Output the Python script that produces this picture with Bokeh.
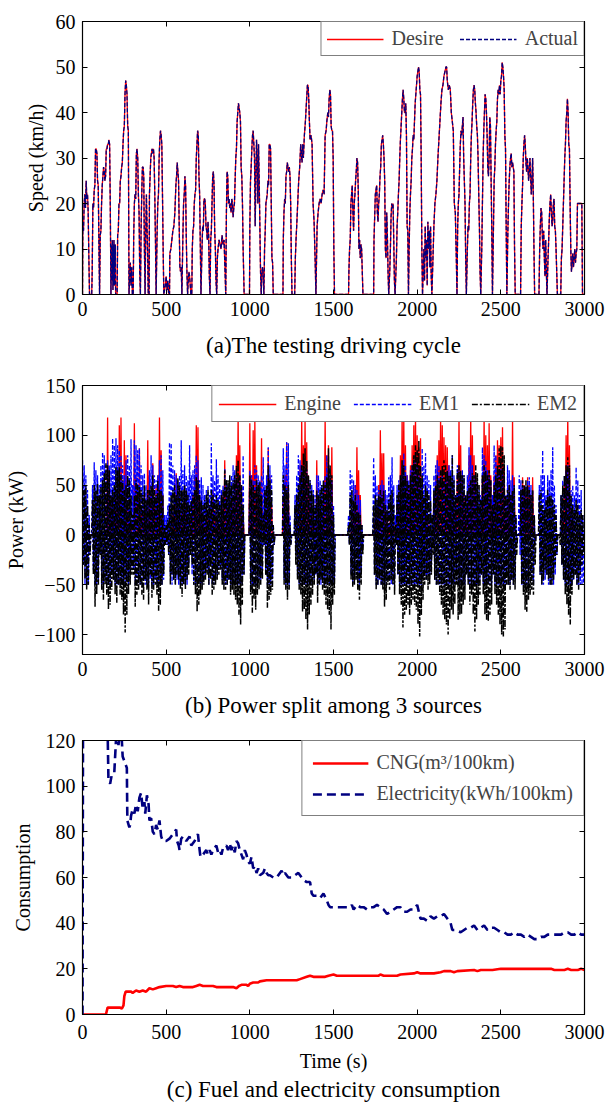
from bokeh.plotting import figure
from bokeh.layouts import column
from bokeh.models import (Range1d, FixedTicker, LinearAxis, Legend, LegendItem,
                          Span, Title, CustomJSTickFormatter)
from bokeh.embed import file_html
from bokeh.resources import INLINE

FONT = "Liberation Serif"

# ---------------- data ----------------
x_ticks = [0, 500, 1000, 1500, 2000, 2500, 3000]
speed_ticks = [0, 10, 20, 30, 40, 50, 60]
power_ticks = [-100, -50, 0, 50, 100, 150]
cons_ticks = [0, 20, 40, 60, 80, 100, 120]

# (a) speed cycle: (time s, speed km/h)
speed_points = [
    (0, 0), (2, 15), (6, 14), (10, 20), (14, 22), (18, 19), (22, 25), (26, 21), (30, 22), (34, 18), (38, 8), (42, 0),
    (55, 0), (58, 5), (62, 20), (66, 19), (70, 23), (74, 24), (78, 32), (82, 32), (86, 31), (90, 25), (94, 24), (98, 12), (102, 0),
    (106, 13), (110, 14), (114, 20), (118, 24), (122, 26), (126, 28), (130, 27), (134, 25), (138, 26), (142, 32), (146, 32), (150, 33), (154, 33), (158, 34), (162, 33), (166, 20), (170, 0),
    (174, 11), (176, 3), (178, 12), (180, 8), (182, 1), (184, 11), (186, 5), (188, 12), (190, 2), (192, 10), (194, 6), (196, 11), (198, 0),
    (207, 0), (210, 13), (214, 14), (218, 20), (222, 20), (226, 25), (230, 26), (234, 28), (238, 29), (242, 33), (246, 36), (250, 37), (254, 44), (258, 47), (262, 46), (266, 44), (270, 37), (274, 36), (278, 0),
    (282, 4), (286, 7), (290, 2), (294, 6), (298, 0),
    (303, 0), (306, 13), (310, 20), (314, 22), (318, 21), (322, 31), (326, 32), (330, 30), (334, 22), (338, 18), (342, 5), (346, 0),
    (350, 14), (354, 22), (358, 28), (362, 28), (366, 26), (370, 10), (374, 0),
    (378, 14), (382, 22), (386, 14), (390, 8), (393, 0),
    (398, 0), (400, 22), (404, 26), (408, 30), (412, 31), (416, 32), (420, 31), (424, 32), (428, 30), (432, 22), (436, 12), (440, 0),
    (446, 14), (450, 20), (454, 22), (458, 30), (462, 34), (466, 36), (470, 35), (474, 33), (478, 22), (482, 10), (486, 0),
    (495, 2), (500, 4), (505, 1), (510, 3), (515, 0),
    (520, 0), (522, 9), (528, 10), (534, 12), (540, 14), (546, 15), (552, 18), (558, 24), (562, 26), (566, 29), (570, 27), (574, 25), (578, 15), (582, 6), (586, 5), (590, 6), (594, 0),
    (600, 13), (604, 20), (608, 22), (612, 26), (616, 24), (620, 13), (624, 5), (628, 0),
    (632, 3), (636, 5), (640, 4), (644, 2), (648, 0),
    (653, 0), (656, 10), (660, 14), (664, 15), (668, 20), (672, 22), (676, 23), (680, 30), (684, 33), (688, 36), (692, 35), (696, 26), (700, 22), (704, 11), (708, 0),
    (714, 10), (718, 15), (722, 14), (726, 21), (730, 21), (734, 20), (738, 15), (742, 14), (746, 12), (750, 16), (754, 13), (758, 4), (762, 0),
    (766, 12), (770, 14), (774, 20), (778, 26), (782, 27), (786, 24), (790, 14), (794, 10), (798, 3), (802, 0),
    (806, 8), (810, 10), (816, 12), (822, 11), (828, 10), (834, 13), (840, 11), (846, 12), (852, 5), (856, 0),
    (860, 18), (864, 27), (868, 26), (872, 20), (876, 21), (880, 19), (884, 20), (888, 18), (892, 21), (896, 20), (900, 17), (904, 19), (908, 20), (912, 25), (916, 30), (920, 32), (924, 38), (928, 40), (932, 42), (936, 41), (940, 40), (944, 38), (948, 28), (952, 26), (956, 20), (960, 10), (966, 0),
    (998, 0), (1000, 15), (1004, 25), (1008, 28), (1012, 32), (1016, 35), (1020, 36), (1024, 33), (1028, 30), (1032, 15), (1036, 25), (1040, 34), (1044, 30), (1048, 20), (1052, 33), (1056, 25), (1060, 15), (1064, 5), (1068, 0),
    (1072, 5), (1076, 6), (1080, 4), (1084, 0),
    (1088, 10), (1092, 14), (1096, 20), (1100, 21), (1104, 22), (1108, 25), (1112, 24), (1116, 33), (1120, 33), (1124, 32), (1128, 20), (1132, 8), (1136, 7), (1140, 0),
    (1198, 0), (1200, 12), (1204, 18), (1208, 21), (1212, 20), (1216, 26), (1220, 27), (1224, 29), (1228, 28), (1232, 27), (1236, 28), (1240, 26), (1244, 20), (1248, 8), (1252, 0),
    (1268, 0), (1272, 8), (1276, 12), (1280, 15), (1286, 20), (1292, 25), (1298, 28), (1304, 33), (1308, 31), (1312, 29), (1316, 33), (1320, 30), (1326, 35), (1332, 38), (1338, 42), (1344, 46), (1348, 46), (1352, 43), (1356, 38), (1360, 34), (1366, 35), (1372, 33), (1378, 20), (1384, 16), (1390, 8), (1395, 0),
    (1402, 15), (1408, 18), (1414, 20), (1420, 21), (1426, 20), (1432, 22), (1438, 23), (1444, 22), (1450, 35), (1456, 36), (1460, 38), (1466, 40), (1470, 39), (1474, 43), (1478, 45), (1482, 44), (1486, 37), (1490, 36), (1494, 36), (1498, 30), (1502, 10), (1506, 0),
    (1590, 0), (1592, 5), (1596, 10), (1600, 12), (1604, 20), (1608, 22), (1612, 24), (1616, 18), (1620, 14), (1624, 20), (1628, 22), (1632, 25), (1636, 27), (1640, 30), (1644, 29), (1648, 23), (1652, 10), (1656, 12), (1660, 8), (1664, 11), (1668, 10), (1672, 5), (1676, 0),
    (1740, 0), (1742, 12), (1746, 17), (1750, 22), (1754, 23), (1758, 24), (1762, 18), (1766, 16), (1770, 20), (1774, 22), (1778, 26), (1782, 28), (1786, 33), (1790, 34), (1794, 35), (1798, 33), (1802, 30), (1806, 25), (1810, 10), (1814, 8), (1818, 18), (1822, 13), (1826, 5), (1830, 0),
    (1836, 5), (1840, 10), (1844, 17), (1848, 20), (1852, 19), (1856, 20), (1860, 12), (1864, 3), (1868, 0),
    (1876, 8), (1880, 15), (1884, 18), (1888, 22), (1892, 25), (1896, 30), (1900, 34), (1904, 37), (1908, 40), (1912, 43), (1916, 45), (1920, 43), (1924, 40), (1928, 40), (1932, 42), (1936, 35), (1940, 15), (1944, 14), (1948, 0),
    (1952, 10), (1956, 18), (1960, 22), (1964, 25), (1968, 30), (1972, 32), (1976, 35), (1980, 34), (1984, 38), (1988, 42), (1992, 44), (1996, 46), (2000, 48), (2004, 49), (2008, 50), (2012, 49), (2016, 45), (2020, 44), (2024, 30), (2028, 10), (2032, 0),
    (2036, 5), (2040, 10), (2044, 3), (2048, 15), (2052, 8), (2056, 12), (2060, 2), (2064, 16), (2068, 10), (2072, 14), (2076, 6), (2080, 15), (2084, 4), (2088, 0),
    (2096, 10), (2100, 15), (2106, 20), (2112, 22), (2118, 25), (2124, 30), (2130, 34), (2136, 38), (2142, 42), (2148, 45), (2154, 46), (2160, 48), (2166, 49), (2172, 50), (2176, 50), (2180, 47), (2186, 45), (2192, 46), (2198, 45), (2204, 40), (2210, 38), (2216, 36), (2222, 20), (2228, 18), (2234, 8), (2238, 0),
    (2242, 15), (2246, 20), (2250, 22), (2254, 28), (2258, 33), (2262, 36), (2266, 35), (2270, 37), (2274, 39), (2278, 30), (2282, 25), (2286, 20), (2290, 8), (2294, 0),
    (2300, 10), (2304, 15), (2308, 14), (2312, 20), (2316, 22), (2320, 30), (2324, 35), (2328, 38), (2332, 42), (2336, 45), (2340, 46), (2344, 45), (2348, 42), (2352, 40), (2356, 37), (2360, 35), (2364, 30), (2368, 22), (2372, 15), (2376, 5), (2380, 0),
    (2386, 10), (2390, 20), (2394, 30), (2398, 36), (2402, 40), (2406, 44), (2410, 43), (2414, 40), (2418, 35), (2422, 28), (2426, 26), (2430, 30), (2434, 39), (2438, 37), (2442, 25), (2446, 14), (2450, 0),
    (2456, 15), (2460, 25), (2464, 28), (2468, 33), (2472, 36), (2476, 38), (2480, 43), (2484, 45), (2488, 44), (2492, 46), (2496, 44), (2500, 47), (2504, 48), (2508, 51), (2512, 50), (2516, 48), (2520, 45), (2524, 35), (2528, 32), (2532, 15), (2536, 0),
    (2542, 14), (2546, 20), (2550, 25), (2554, 28), (2558, 30), (2562, 31), (2566, 28), (2570, 29), (2574, 28), (2578, 27), (2582, 10), (2586, 0),
    (2618, 0), (2622, 15), (2626, 20), (2630, 24), (2634, 30), (2638, 33), (2642, 35), (2646, 33), (2650, 29), (2654, 27), (2658, 30), (2662, 28), (2666, 25), (2670, 27), (2674, 30), (2678, 26), (2682, 22), (2686, 25), (2690, 30), (2694, 22), (2698, 10), (2702, 0),
    (2728, 0), (2732, 10), (2736, 15), (2740, 19), (2744, 18), (2748, 13), (2752, 10), (2756, 14), (2760, 8), (2764, 4), (2768, 12), (2772, 5), (2776, 0),
    (2782, 8), (2786, 12), (2790, 17), (2794, 20), (2798, 22), (2802, 18), (2806, 15), (2810, 16), (2814, 20), (2818, 21), (2822, 15), (2826, 14), (2830, 10), (2834, 5), (2838, 0),
    (2858, 0), (2862, 8), (2866, 10), (2870, 15), (2874, 20), (2878, 25), (2882, 30), (2886, 33), (2890, 38), (2894, 40), (2898, 43), (2902, 40), (2906, 33), (2910, 32), (2914, 20), (2918, 10), (2922, 5),
    (2926, 7), (2930, 9), (2934, 6), (2938, 8), (2942, 10), (2946, 7), (2950, 9), (2954, 10), (2958, 20), (2962, 20), (2970, 20), (2978, 20), (2984, 20), (2988, 0), (3000, 0),
]

# (b) power split, sampled every 10 s (upper / lower excursion in each interval, kW)
power_time = list(range(0, 3000, 10))
engine_hi = [
    0, 0, 0, 0, 0, 0, 0, 0, 0, 0,
    0, 0, 0, 0, 0, 118, 60, 30, 40, 25,
    40, 35, 110, 118, 50, 95, 80, 30, 20, 10,
    0, 112, 60, 40, 87, 30, 25, 40, 20, 95,
    60, 40, 72, 30, 50, 60, 118, 85, 40, 0,
    0, 0, 0, 0, 20, 40, 62, 50, 30, 20,
    30, 50, 40, 0, 0, 20, 40, 60, 110, 108,
    40, 30, 20, 10, 20, 25, 0, 30, 45, 25,
    20, 10, 10, 20, 40, 75, 50, 30, 40, 35,
    40, 55, 80, 121, 90, 50, 20, 0, 0, 0,
    112, 60, 105, 115, 70, 40, 30, 97, 0, 40,
    50, 87, 60, 30, 0, 0, 0, 0, 0, 0,
    40, 60, 93, 50, 0, 0, 0, 0, 20, 40,
    70, 118, 90, 115, 93, 60, 40, 30, 20, 10,
    75, 40, 30, 20, 50, 120, 80, 90, 60, 88,
    0, 0, 0, 0, 0, 0, 0, 0, 0, 0,
    0, 20, 30, 50, 88, 65, 40, 0, 0, 0,
    0, 0, 0, 0, 0, 20, 30, 50, 105, 82,
    82, 40, 20, 10, 20, 30, 10, 0, 30, 50,
    80, 120, 118, 90, 60, 50, 70, 90, 110, 122,
    100, 88, 97, 40, 20, 30, 20, 10, 0, 0,
    40, 60, 80, 95, 120, 110, 98, 90, 88, 70,
    60, 50, 30, 20, 60, 118, 90, 60, 40, 20,
    40, 80, 122, 100, 80, 60, 40, 20, 10, 60,
    120, 100, 90, 112, 60, 20, 60, 80, 95, 90,
    98, 108, 70, 20, 40, 50, 40, 118, 58, 0,
    0, 0, 30, 58, 50, 40, 58, 50, 40, 58,
    0, 0, 0, 0, 0, 0, 0, 0, 0, 0,
    0, 0, 0, 0, 0, 0, 0, 20, 50, 100,
    122, 90, 30, 20, 0, 0, 0, 0, 0, 0,
]
em1_hi = [
    75, 70, 60, 45, 20, 0, 50, 73, 65, 60,
    50, 70, 83, 80, 70, 75, 70, 80, 97, 90,
    97, 90, 85, 80, 70, 60, 75, 80, 70, 96,
    50, 95, 90, 85, 87, 70, 60, 62, 50, 40,
    65, 80, 70, 60, 55, 60, 75, 80, 65, 20,
    20, 30, 93, 92, 70, 65, 60, 55, 60, 95,
    65, 70, 60, 55, 90, 60, 65, 70, 80, 75,
    55, 58, 50, 40, 45, 50, 40, 92, 60, 55,
    76, 60, 50, 45, 50, 67, 55, 50, 55, 60,
    70, 65, 60, 55, 60, 50, 80, 0, 0, 0,
    65, 60, 55, 70, 65, 60, 55, 60, 78, 50,
    60, 88, 70, 60, 10, 0, 0, 0, 0, 0,
    87, 70, 93, 92, 20, 0, 0, 40, 60, 80,
    75, 70, 65, 60, 66, 60, 55, 50, 45, 40,
    60, 60, 55, 50, 55, 60, 80, 70, 60, 55,
    30, 0, 0, 0, 0, 0, 0, 0, 0, 20,
    65, 60, 55, 50, 45, 40, 35, 10, 0, 0,
    0, 0, 0, 0, 78, 60, 50, 45, 50, 55,
    50, 45, 40, 58, 60, 78, 50, 20, 50, 55,
    60, 70, 82, 70, 60, 55, 65, 70, 75, 80,
    70, 60, 55, 87, 70, 82, 60, 55, 50, 20,
    60, 70, 75, 70, 65, 60, 55, 60, 65, 70,
    65, 80, 60, 40, 70, 65, 60, 65, 60, 40,
    60, 88, 80, 70, 60, 55, 50, 45, 40, 88,
    80, 75, 65, 60, 55, 40, 90, 80, 70, 65,
    70, 65, 60, 40, 70, 65, 55, 60, 50, 20,
    0, 60, 55, 50, 45, 50, 55, 58, 50, 45,
    20, 0, 0, 50, 60, 85, 60, 40, 60, 55,
    65, 88, 50, 30, 0, 0, 40, 55, 60, 65,
    70, 60, 45, 50, 40, 68, 55, 40, 45, 20,
]
em1_lo = [
    -30, -50, -50, -50, -20, 0, -35, -50, -50, -45,
    -20, -50, -50, -45, -50, -50, -50, -40, -45, -50,
    -50, -50, -50, -50, -50, -50, -45, -50, -40, -35,
    -35, -50, -50, -45, -50, -50, -45, -50, -50, -50,
    -45, -50, -50, -45, -50, -50, -50, -50, -45, -10,
    -10, -20, -40, -50, -45, -50, -45, -50, -50, -50,
    -45, -50, -50, -30, -20, -40, -50, -50, -50, -50,
    -50, -50, -45, -40, -35, -50, -30, -50, -50, -45,
    -40, -35, -30, -45, -50, -50, -50, -45, -50, -50,
    -50, -50, -50, -50, -50, -50, -40, 0, 0, 0,
    -50, -50, -50, -50, -50, -45, -45, -40, -10, -40,
    -50, -50, -50, -45, -10, 0, 0, 0, 0, 0,
    -45, -50, -50, -50, -10, 0, 0, -20, -40, -50,
    -50, -50, -50, -50, -50, -50, -50, -45, -45, -40,
    -50, -45, -50, -45, -50, -50, -50, -50, -50, -50,
    -50, 0, 0, 0, 0, 0, 0, 0, 0, -10,
    -40, -50, -45, -40, -45, -50, -40, -10, 0, 0,
    0, 0, 0, 0, -40, -50, -50, -45, -50, -50,
    -50, -50, -45, -50, -50, -50, -45, -10, -40, -50,
    -50, -50, -50, -50, -50, -50, -50, -50, -50, -50,
    -50, -50, -50, -45, -40, -45, -40, -40, -35, -10,
    -45, -50, -50, -50, -50, -50, -50, -50, -50, -50,
    -50, -50, -50, -40, -50, -50, -50, -50, -50, -40,
    -45, -50, -50, -50, -50, -50, -50, -45, -40, -50,
    -50, -50, -50, -50, -50, -40, -50, -50, -50, -50,
    -50, -50, -50, -40, -50, -50, -45, -50, -45, -10,
    0, -20, -50, -50, -50, -50, -50, -45, -45, -50,
    -10, 0, 0, -40, -50, -50, -45, -40, -50, -50,
    -50, -50, -40, -20, 0, 0, -30, -45, -50, -50,
    -50, -50, -50, -45, -40, -50, -50, -50, -50, -50,
]
em2_hi = [
    57, 45, 50, 30, 10, 0, 35, 50, 45, 52,
    40, 48, 55, 62, 72, 70, 65, 40, 45, 50,
    68, 65, 68, 60, 55, 45, 50, 60, 55, 40,
    20, 40, 55, 50, 48, 45, 40, 50, 35, 45,
    45, 50, 60, 45, 40, 55, 45, 45, 40, 10,
    10, 15, 30, 40, 45, 50, 40, 57, 50, 45,
    45, 50, 45, 40, 30, 35, 40, 45, 58, 55,
    40, 35, 30, 35, 40, 45, 30, 45, 40, 35,
    40, 35, 30, 40, 45, 65, 55, 55, 60, 50,
    55, 60, 70, 75, 60, 50, 30, 0, 0, 0,
    60, 55, 50, 45, 55, 50, 53, 40, 20, 45,
    50, 70, 55, 45, 10, 0, 0, 0, 0, 0,
    60, 50, 45, 50, 10, 0, 0, 30, 40, 50,
    60, 70, 82, 87, 75, 60, 55, 45, 40, 30,
    45, 40, 45, 50, 55, 50, 58, 87, 70, 60,
    20, 0, 0, 0, 0, 0, 0, 0, 0, 10,
    40, 45, 35, 40, 30, 23, 20, 10, 0, 0,
    0, 0, 0, 0, 30, 40, 35, 40, 45, 40,
    45, 30, 25, 35, 40, 45, 30, 10, 40, 50,
    60, 75, 70, 60, 55, 50, 60, 70, 80, 90,
    85, 95, 70, 60, 40, 50, 45, 40, 35, 20,
    45, 50, 60, 55, 65, 70, 75, 70, 65, 60,
    60, 80, 55, 40, 65, 70, 65, 60, 60, 40,
    45, 50, 55, 62, 60, 70, 62, 50, 35, 60,
    70, 65, 60, 65, 55, 30, 50, 60, 70, 87,
    90, 88, 80, 40, 45, 50, 40, 45, 50, 20,
    0, 0, 45, 55, 50, 55, 50, 45, 40, 45,
    20, 0, 0, 40, 45, 30, 25, 35, 45, 40,
    40, 35, 30, 20, 0, 0, 40, 50, 60, 70,
    78, 70, 40, 30, 25, 35, 30, 20, 25, 20,
]
em2_lo = [
    -30, -45, -55, -50, -20, 0, -40, -72, -60, -50,
    -20, -55, -65, -50, -60, -75, -70, -55, -45, -60,
    -68, -50, -60, -65, -80, -98, -80, -60, -50, -40,
    -40, -72, -60, -55, -50, -60, -65, -45, -55, -70,
    -40, -63, -55, -50, -60, -76, -70, -50, -40, -10,
    -10, -20, -50, -40, -45, -50, -40, -45, -55, -62,
    -50, -55, -45, -40, -20, -30, -50, -60, -77, -70,
    -60, -55, -50, -45, -40, -50, -45, -60, -55, -50,
    -45, -40, -35, -50, -55, -55, -50, -45, -60, -55,
    -60, -65, -70, -80, -90, -70, -40, 0, 0, 0,
    -60, -78, -65, -75, -60, -55, -50, -45, -10, -40,
    -73, -65, -60, -55, -10, 0, 0, 0, 0, 0,
    -50, -55, -65, -55, -10, 0, 0, -30, -45, -55,
    -60, -77, -75, -85, -95, -80, -70, -60, -50, -40,
    -68, -50, -45, -55, -60, -70, -75, -80, -95, -70,
    -60, 0, 0, 0, 0, 0, 0, 0, 0, -10,
    -45, -52, -50, -45, -55, -65, -50, -20, 0, 0,
    0, 0, 0, 0, -40, -55, -50, -45, -50, -55,
    -72, -65, -50, -55, -45, -50, -60, -10, -40, -60,
    -70, -93, -80, -75, -70, -80, -70, -65, -70, -75,
    -90, -102, -80, -65, -50, -45, -55, -50, -40, -20,
    -45, -50, -50, -60, -70, -80, -85, -90, -100, -85,
    -75, -80, -70, -50, -85, -80, -80, -70, -65, -40,
    -50, -70, -60, -80, -97, -85, -70, -60, -40, -60,
    -80, -85, -87, -80, -70, -40, -60, -70, -80, -90,
    -100, -102, -95, -50, -50, -55, -45, -50, -55, -20,
    0, 0, -50, -60, -75, -77, -65, -60, -55, -60,
    -30, 0, 0, -40, -50, -45, -35, -40, -45, -50,
    -50, -45, -30, -20, 0, -10, -30, -45, -60, -70,
    -80, -90, -60, -45, -40, -50, -55, -40, -30, -20,
]

# (c) cumulative consumption
cng_points = [
    (0, 0), (140, 0), (150, 3), (225, 3), (235, 2.5), (245, 4), (250, 8), (258, 10), (290, 10), (300, 9.5),
    (320, 10.5), (340, 10), (360, 10.5), (380, 10), (400, 11.5), (420, 11), (440, 11.5), (460, 12), (500, 12.5),
    (540, 12.5), (560, 12), (580, 12.5), (600, 12), (660, 12), (680, 12.5), (700, 13), (720, 12.5), (780, 12.5),
    (800, 12), (900, 12), (920, 11.5), (935, 12.5), (950, 13), (980, 13), (990, 12.5), (1000, 13.5), (1020, 14),
    (1050, 14), (1060, 14.5), (1100, 15), (1200, 15), (1280, 15), (1300, 15.5), (1340, 16.5), (1360, 17),
    (1380, 16.5), (1450, 16.5), (1470, 17), (1500, 17.5), (1520, 17), (1770, 17), (1780, 17.5), (1800, 17),
    (1880, 17), (1900, 17.5), (1980, 18), (2000, 18.5), (2020, 18), (2100, 18), (2140, 18.5), (2160, 19),
    (2200, 19), (2220, 18.5), (2240, 19), (2340, 19.5), (2360, 19), (2380, 19.5), (2450, 19.5), (2500, 20),
    (2800, 20), (2820, 19.5), (2880, 19.5), (2900, 20), (2920, 19.5), (2960, 19.5), (2980, 20), (3000, 19.5),
]
elec_points = [
    (0, 0), (3, 125), (150, 125), (155, 103), (165, 101), (175, 105), (190, 106), (200, 120), (205, 125),
    (215, 118), (225, 125), (235, 120), (240, 113), (255, 110), (265, 108), (268, 85), (280, 82), (285, 83),
    (290, 87), (300, 90), (310, 88), (320, 92), (330, 89), (340, 95), (350, 97), (360, 90), (370, 93), (375, 88),
    (385, 96), (395, 92), (400, 85), (410, 86), (420, 80), (430, 79), (440, 83), (450, 81), (460, 85), (470, 78),
    (480, 76), (500, 76), (520, 77), (540, 79), (560, 81), (565, 76), (575, 74), (580, 72), (590, 77), (600, 78),
    (620, 76), (640, 78), (650, 74), (670, 76), (690, 79), (700, 72), (705, 69), (720, 70), (740, 72), (750, 70),
    (760, 72), (770, 70), (780, 72), (790, 73), (800, 74), (810, 71), (820, 72), (830, 70), (840, 73), (860, 74),
    (870, 72), (880, 75), (890, 72), (900, 74), (910, 71), (920, 76), (930, 75), (940, 72), (950, 70), (960, 68),
    (970, 72), (980, 70), (990, 67), (1000, 66), (1010, 69), (1020, 64), (1030, 65), (1040, 62), (1050, 64),
    (1060, 61), (1080, 62), (1090, 64), (1100, 62), (1110, 61), (1120, 61), (1140, 60), (1160, 60), (1180, 62),
    (1190, 63), (1200, 61), (1210, 62), (1230, 60), (1250, 60), (1270, 61), (1290, 62), (1300, 61), (1320, 59),
    (1340, 58), (1360, 58), (1370, 53), (1380, 52), (1400, 52), (1420, 51), (1440, 53), (1460, 50), (1470, 48),
    (1480, 47), (1500, 47), (1550, 47), (1600, 47), (1610, 48), (1620, 46), (1640, 48), (1660, 47), (1680, 47),
    (1700, 46), (1720, 47), (1740, 47), (1760, 48), (1780, 47), (1800, 46), (1820, 44), (1840, 45), (1860, 46),
    (1880, 47), (1900, 47), (1920, 45), (1940, 45), (1960, 46), (1980, 46), (2000, 48), (2010, 45), (2020, 42),
    (2040, 42), (2060, 41), (2080, 43), (2100, 42), (2120, 43), (2140, 43), (2160, 44), (2180, 42), (2200, 40),
    (2210, 37), (2230, 37), (2260, 36), (2280, 37), (2300, 38), (2320, 38), (2340, 39), (2360, 37), (2380, 38),
    (2400, 39), (2420, 37), (2440, 38), (2460, 38), (2480, 37), (2500, 36), (2520, 36), (2540, 35), (2560, 35),
    (2580, 36), (2600, 35), (2620, 35), (2640, 34), (2660, 35), (2680, 34), (2700, 33), (2720, 33), (2740, 34),
    (2760, 34), (2780, 35), (2800, 35), (2820, 35), (2840, 35), (2860, 35), (2880, 36), (2900, 36), (2920, 35),
    (2940, 35), (2960, 36), (2980, 35), (3000, 35),
]


# ---------------- helpers ----------------
def zigzag(times, hi, lo):
    xs, ys = [], []
    for t, h, l in zip(times, hi, lo):
        xs += [t, t + 5]
        ys += [h, l]
    return xs, ys


def style_axis(ax, ticks, labels=True):
    ax.ticker = FixedTicker(ticks=ticks)
    ax.major_tick_in = 5
    ax.major_tick_out = 0
    ax.minor_tick_in = 0
    ax.minor_tick_out = 0
    ax.axis_line_color = "black"
    ax.axis_line_width = 1
    ax.major_tick_line_color = "black"
    ax.major_tick_line_width = 1
    ax.major_label_text_font = FONT
    ax.major_label_text_font_size = "20px"
    ax.major_label_text_color = "black"
    ax.axis_label_text_font = FONT
    ax.axis_label_text_font_size = "20px"
    ax.axis_label_text_font_style = "normal"
    ax.axis_label_text_color = "black"
    if not labels:
        ax.formatter = CustomJSTickFormatter(code="return ''")
        ax.major_label_standoff = 0


def make_fig(height, top, bottom, left, yr, yticks, xlabel, ylabel, xstand, ystand, xsize, tstand):
    p = figure(width=607, height=height, x_range=Range1d(0, 3000), y_range=Range1d(*yr),
               output_backend="svg", toolbar_location=None,
               min_border_left=left, min_border_right=23, min_border_top=top,
               min_border_bottom=bottom, x_axis_location=None, y_axis_location=None)
    p.xgrid.visible = False
    p.ygrid.visible = False
    p.outline_line_color = "black"
    p.outline_line_width = 1.2
    p.outline_line_alpha = 1
    p.background_fill_color = "white"
    p.border_fill_color = "white"
    bx = LinearAxis(axis_label=xlabel)
    style_axis(bx, x_ticks)
    bx.major_label_standoff = tstand
    bx.axis_label_standoff = xstand
    bx.axis_label_text_font_size = xsize
    p.add_layout(bx, "below")
    ly = LinearAxis(axis_label=ylabel)
    style_axis(ly, yticks)
    ly.major_label_standoff = 7
    ly.axis_label_standoff = ystand
    p.add_layout(ly, "left")
    ra = LinearAxis()
    style_axis(ra, yticks, labels=False)
    p.add_layout(ra, "right")
    ta = LinearAxis()
    style_axis(ta, x_ticks, labels=False)
    p.add_layout(ta, "above")
    return p


def make_legend(items, orientation, padding, spacing, glyph_width):
    return Legend(items=items, orientation=orientation, location="top_right", margin=0,
                  padding=padding, spacing=spacing, glyph_width=glyph_width, glyph_height=20,
                  label_standoff=8, label_text_font=FONT, label_text_font_size="20px",
                  border_line_color="black", border_line_width=1.2,
                  background_fill_color="white", background_fill_alpha=1)


# ---------------- (a) speed ----------------
st = [a for a, b in speed_points]
sv = [b for a, b in speed_points]
p1 = make_fig(360, 21, 66, 80, (0, 60), speed_ticks,
              "(a)The testing driving cycle", "Speed (km/h)", 14, 6, "23px", 7)
r_des = p1.line(st, sv, line_color="#ff0000", line_width=1.3)
r_act = p1.line(st, sv, line_color="#000080", line_width=1.3, line_dash="4 2")
p1.add_layout(make_legend([LegendItem(label="Desire", renderers=[r_des]),
                           LegendItem(label="Actual", renderers=[r_act])],
                          "horizontal", 5, 16, 57))

# ---------------- (b) power ----------------
p2 = make_fig(360, 25, 65, 82, (-120, 150), power_ticks,
              "(b) Power split among 3 sources", "Power (kW)", 14, 4, "23px", 7)
ex, ey = zigzag(power_time, engine_hi, [0] * len(engine_hi))
m1x, m1y = zigzag(power_time, em1_hi, em1_lo)
m2x, m2y = zigzag(power_time, em2_hi, em2_lo)
r_eng = p2.line(ex, ey, line_color="#ff0000", line_width=1.3)
r_em1 = p2.line(m1x, m1y, line_color="#0000ff", line_width=1.3, line_dash="4 2")
r_em2 = p2.line(m2x, m2y, line_color="black", line_width=1.5, line_dash="6 2 2 2")
p2.add_layout(Span(location=0, dimension="width", line_color="black", line_width=1.5))
p2.add_layout(make_legend([LegendItem(label="Engine", renderers=[r_eng]),
                           LegendItem(label="EM1", renderers=[r_em1]),
                           LegendItem(label="EM2", renderers=[r_em2])],
                          "horizontal", 6, 12, 58))

# ---------------- (c) consumption ----------------
ct = [a for a, b in cng_points]
cv = [b for a, b in cng_points]
et = [a for a, b in elec_points]
ev = [b for a, b in elec_points]
p3 = make_fig(382, 20, 88, 82, (0, 120), cons_ticks,
              "Time (s)", "Consumption", 8, 9, "20px", 10)
r_cng = p3.line(ct, cv, line_color="#ff0000", line_width=2.6)
r_ele = p3.line(et, ev, line_color="#000080", line_width=2.6, line_dash="9 5")
p3.add_layout(make_legend([LegendItem(label="CNG(m³/100km)", renderers=[r_cng]),
                           LegendItem(label="Electricity(kWh/100km)", renderers=[r_ele])],
                          "vertical", 10, 8, 56))
p3.add_layout(Title(text="(c) Fuel and electricity consumption", align="center",
                    text_font=FONT, text_font_size="23px", text_font_style="normal",
                    text_color="black", standoff=1), "below")

layout = column(p1, p2, p3, spacing=0)
open("out.html", "w").write(file_html(layout, INLINE))
